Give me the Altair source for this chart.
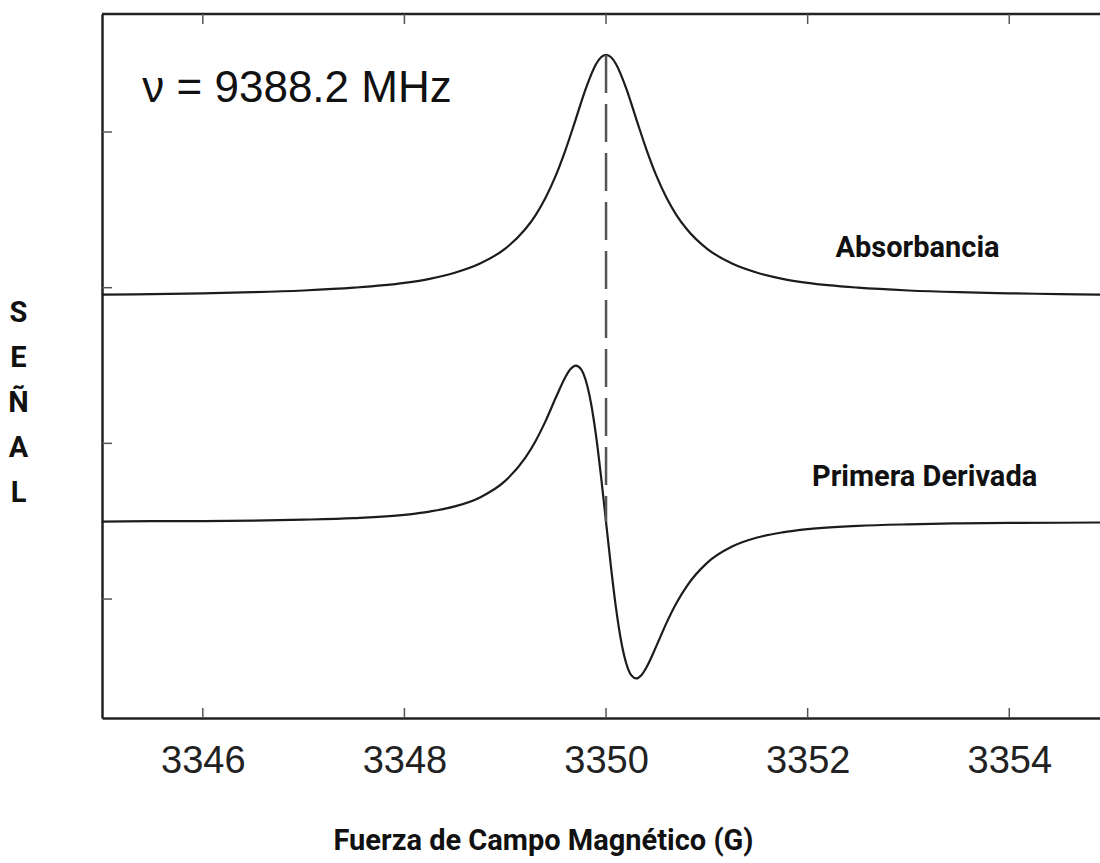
import altair as alt
import pandas as pd

# ---- data ----
abs_x = [3345.0, 3345.5, 3346.0, 3346.5, 3347.0, 3347.5, 3348.0, 3348.25, 3348.5, 3348.75,
         3349.0, 3349.2, 3349.3, 3349.4, 3349.5, 3349.6, 3349.7, 3349.8, 3349.9, 3349.95,
         3350.0, 3350.05, 3350.1, 3350.2, 3350.3, 3350.4, 3350.5, 3350.6, 3350.7, 3350.8,
         3351.0, 3351.25, 3351.5, 3351.75, 3352.0, 3352.5, 3353.0, 3353.5, 3354.0, 3354.5, 3355.0]
abs_y = [2.955, 2.959, 2.964, 2.971, 2.982, 3.000, 3.031, 3.057, 3.096, 3.155,
         3.251, 3.377, 3.465, 3.578, 3.718, 3.889, 4.083, 4.280, 4.435, 4.480,
         4.495, 4.480, 4.435, 4.280, 4.083, 3.889, 3.718, 3.578, 3.465, 3.377,
         3.251, 3.155, 3.096, 3.057, 3.031, 3.000, 2.982, 2.971, 2.964, 2.959, 2.955]

der_x = [3345.0, 3345.5, 3346.0, 3346.5, 3347.0, 3347.5, 3348.0, 3348.25, 3348.5, 3348.75,
         3349.0, 3349.2, 3349.3, 3349.4, 3349.5, 3349.6, 3349.65, 3349.7, 3349.75, 3349.8,
         3349.85, 3349.9, 3349.95, 3350.0, 3350.05, 3350.1, 3350.15, 3350.2, 3350.25, 3350.3,
         3350.35, 3350.4, 3350.5, 3350.6, 3350.7, 3350.8, 3351.0, 3351.25, 3351.5, 3351.75,
         3352.0, 3352.5, 3353.0, 3353.5, 3354.0, 3354.5, 3355.0]
der_y = [1.498, 1.500, 1.501, 1.504, 1.510, 1.520, 1.541, 1.562, 1.595, 1.653,
         1.759, 1.908, 2.014, 2.143, 2.291, 2.430, 2.479, 2.500, 2.479, 2.402,
         2.261, 2.053, 1.789, 1.495, 1.201, 0.937, 0.729, 0.588, 0.511, 0.490,
         0.511, 0.560, 0.699, 0.847, 0.976, 1.082, 1.231, 1.337, 1.395, 1.428,
         1.449, 1.470, 1.480, 1.486, 1.489, 1.490, 1.492]

dash_x = [3350.0]
dash_top = [4.495]
dash_bottom = [1.495]

x_ticks = [3346, 3348, 3350, 3352, 3354]
y_ticks = [1, 2, 3, 4]

ann_text = ["ν = 9388.2 MHz", "Absorbancia", "Primera Derivada"]
ann_x = [3345.40, 3353.09, 3353.16]
ann_y = [4.192, 3.254, 1.784]

# ---- build tables ----
curves = pd.concat([
    pd.DataFrame({"x": abs_x, "y": abs_y, "serie": "Absorbancia"}),
    pd.DataFrame({"x": der_x, "y": der_y, "serie": "Primera Derivada"}),
], ignore_index=True)
dash_df = pd.DataFrame({"x": dash_x, "y": dash_top, "y2": dash_bottom})
xt_df = pd.DataFrame({"x": x_ticks})
yt_df = pd.DataFrame({"y": y_ticks})
ann_df = pd.DataFrame({"text": ann_text, "x": ann_x, "y": ann_y})

W, H = 998, 704
BOLD = "Roboto, Liberation Sans, sans-serif"
SANS = "Liberation Sans, Arial, sans-serif"
FRAME = "#222222"

xscale = alt.Scale(domain=[3345, 3354.9], nice=False, zero=False)
yscale = alt.Scale(domain=[0.236, 4.758], nice=False, zero=False)

xaxis = alt.Axis(
    values=x_ticks, format="d", ticks=False, tickSize=0, grid=False,
    domainColor=FRAME, domainWidth=2.5,
    labelFont=SANS, labelFontSize=38, labelColor="#222222", labelPadding=24,
    title="Fuerza de Campo Magnético (G)", titleFont=BOLD, titleFontSize=29,
    titleFontWeight="bold", titleColor="#111111", titleX=441, titleY=122,
    titleAlign="center", titleBaseline="middle")
yaxis = alt.Axis(
    labels=False, ticks=False, tickSize=0, grid=False,
    domainColor=FRAME, domainWidth=2.5,
    title=["S", "E", "Ñ", "A", "L"], titleAngle=0, titleX=-84, titleY=284,
    titleAlign="center", titleBaseline="top", titleFont=BOLD,
    titleFontSize=29, titleFontWeight="bold", titleLineHeight=45,
    titleColor="#111111")

X = alt.X("x:Q", scale=xscale, axis=xaxis)
Y = alt.Y("y:Q", scale=yscale, axis=yaxis)

lines = alt.Chart(curves).mark_line(
    color="#1c1c1c", strokeWidth=2.2, interpolate="monotone", clip=True
).encode(x=X, y=Y, detail="serie:N")

dash = alt.Chart(dash_df).mark_rule(
    color="#555555", strokeWidth=2.5, strokeDash=[38, 11]
).encode(x=X, y=Y, y2="y2:Q")

top_frame = alt.Chart(alt.Data(values=[{}])).mark_rule(
    color=FRAME, strokeWidth=2.5
).encode(x=alt.value(0), x2=alt.value(W), y=alt.value(0))

bottom_ticks = alt.Chart(xt_df).mark_rule(color="#555555", strokeWidth=1.5).encode(
    x=X, y=alt.value(H), y2=alt.value(H - 10))
top_ticks = alt.Chart(xt_df).mark_rule(color="#555555", strokeWidth=1.5).encode(
    x=X, y=alt.value(0), y2=alt.value(10))
left_ticks = alt.Chart(yt_df).mark_rule(color="#555555", strokeWidth=1.5).encode(
    y=Y, x=alt.value(0), x2=alt.value(10))

nu_text = alt.Chart(ann_df.iloc[[0]]).mark_text(
    font=SANS, fontSize=44, color="#111111", align="left", baseline="alphabetic"
).encode(x=X, y=Y, text="text:N")

labels = alt.Chart(ann_df.iloc[1:]).mark_text(
    font=BOLD, fontSize=29, fontWeight="bold", color="#111111",
    align="center", baseline="middle"
).encode(x=X, y=Y, text="text:N")

chart = alt.layer(
    lines, dash, top_frame, bottom_ticks, top_ticks, left_ticks, nu_text, labels
).properties(
    width=W, height=H,
    autosize=alt.AutoSizeParams(type="none"),
    padding={"left": 102, "top": 14, "right": 0, "bottom": 140},
    background="white",
).configure_view(stroke=None)

chart.save("out.html", embed_options={"renderer": "svg", "actions": False})
